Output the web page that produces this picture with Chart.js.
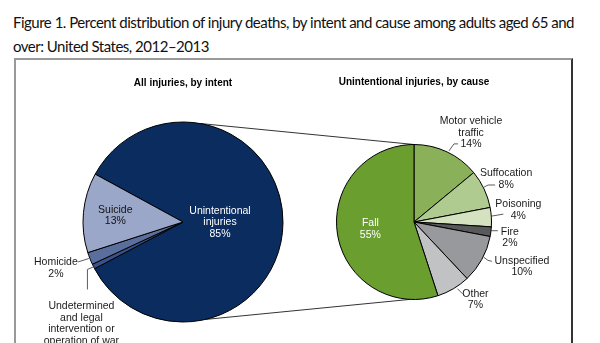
<!DOCTYPE html>
<html>
<head>
<meta charset="utf-8">
<script src="https://cdn.jsdelivr.net/npm/chart.js@4.4.1/dist/chart.umd.min.js"></script>
<style>
  body { margin: 0; width: 600px; height: 343px; overflow: hidden; background: #fff; position: relative; }
  #titulo { position: absolute; left: 13px; top: 10px; font-family: Lato, sans-serif; font-size: 15px; letter-spacing: -0.5px; line-height: 24px; color: #111; white-space: nowrap; }
  #caixa { position: absolute; left: 14px; top: 58px; width: 559px; height: 300px; box-sizing: border-box;
           border-top: 2px solid #999; border-left: 2px solid #999; border-right: 2px solid #333; }
  canvas { position: absolute; }
</style>
</head>
<body>
<div id="titulo">Figure 1. Percent distribution of injury deaths, by intent and cause among adults aged 65 and<br>over: United States, 2012–2013</div>
<div id="caixa"></div>
<canvas id="linhas" width="600" height="343" style="left:0;top:0"></canvas>
<canvas id="intentChart" width="336" height="282" style="left:15px;top:61px"></canvas>
<canvas id="causeChart" width="300" height="282" style="left:272px;top:61px"></canvas>
<script>
// Dados - todas as lesões por intenção (ordem horária a partir da fatia grande)
const intentLabels = [['Unintentional', 'injuries'], ['Undetermined', 'and legal', 'intervention or', 'operation of war'], ['Homicide'], ['Suicide']];
const intentValues = [85, 0.8, 2, 13];
const intentColors = ['#0b2c5e', '#3a5088', '#5b6f9f', '#9ba7c9'];

// Dados - lesões não intencionais por causa
const causeLabels = [['Motor vehicle', 'traffic'], ['Suffocation'], ['Poisoning'], ['Fire'], ['Unspecified'], ['Other'], ['Fall']];
const causeValues = [14, 8, 4, 2, 10, 7, 55];
const causeColors = ['#8bb05a', '#b0cb8f', '#d4e2bf', '#58595b', '#97999c', '#c1c2c4', '#6a9e2f'];

// Posição dos rótulos (relativa ao ponto da borda no meio de cada fatia)
const intentLayout = [
  { inside: true, rf: 0.37, color: '#ffffff' },
  { pct: false, dx: -12, dy: 57, leader: [[1, 0], [-6, 3], [-6, 23]] },
  { dx: -34, dy: 9.5, leader: [[-1, 0], [-12, 3.5]] },
  { inside: true, rf: 0.68, color: '#111111' }
];
const causeLayout = [
  { dx: 24, dy: -19, leader: [[2, -1], [7, -8], [11, -8]] },
  { dx: 22, dy: -10, leader: [[0, -2], [4, -4], [11, -4]] },
  { dx: 27, dy: -7, leader: [[0, -1], [12, -3]] },
  { dx: 19, dy: 6, leader: [[0, -1], [7, -1]] },
  { dx: 40, dy: 7.5, leader: [[2, -2], [6, 1], [10, 2]] },
  { dx: 22, dy: 11, leader: [[4, 0], [7, 3], [9, 5]] },
  { inside: true, rf: 0.57, color: '#ffffff' }
];

const fonte = 'Liberation Sans, Arial, sans-serif';

// Plugin para desenhar os rótulos e as linhas de chamada
const rotulosPlugin = {
  id: 'rotulos',
  afterDatasetsDraw(chart, args, opts) {
    const ctx = chart.ctx;
    const meta = chart.getDatasetMeta(0);
    const valores = chart.data.datasets[0].data;
    ctx.save();
    ctx.font = '10.5px ' + fonte;
    ctx.textAlign = 'center';
    ctx.textBaseline = 'middle';
    meta.data.forEach((arc, i) => {
      const cfg = opts.layout[i];
      const p = arc.getProps(['x', 'y', 'startAngle', 'endAngle', 'outerRadius']);
      const meio = (p.startAngle + p.endAngle) / 2;
      const cos = Math.cos(meio), sin = Math.sin(meio);
      let linhas = [].concat(chart.data.labels[i]);
      if (cfg.pct !== false) linhas = linhas.concat(Math.round(valores[i]) + '%');
      let tx, ty;
      if (cfg.inside) {
        tx = p.x + cos * p.outerRadius * cfg.rf;
        ty = p.y + sin * p.outerRadius * cfg.rf;
        ctx.fillStyle = cfg.color;
      } else {
        const ex = p.x + cos * p.outerRadius;
        const ey = p.y + sin * p.outerRadius;
        ctx.strokeStyle = '#333';
        ctx.lineWidth = 0.8;
        ctx.beginPath();
        cfg.leader.forEach(([lx, ly], k) => {
          if (k === 0) ctx.moveTo(ex + lx, ey + ly);
          else ctx.lineTo(ex + lx, ey + ly);
        });
        ctx.stroke();
        tx = ex + cfg.dx;
        ty = ey + cfg.dy;
        ctx.fillStyle = '#1a1a1a';
      }
      const lh = 11.5;
      linhas.forEach((t, k) => {
        ctx.fillText(t, tx, ty + (k - (linhas.length - 1) / 2) * lh);
      });
    });
    ctx.restore();
  }
};

function opcoes(titulo, rotacao, padding, tituloPad, layout) {
  return {
    responsive: false,
    animation: false,
    rotation: rotacao,
    layout: { padding: padding },
    plugins: {
      legend: { display: false },
      tooltip: { enabled: false },
      title: {
        display: true,
        text: titulo,
        color: '#000',
        font: { family: fonte, size: 10, weight: 'bold' },
        padding: tituloPad
      },
      rotulos: { layout: layout }
    }
  };
}

const intentChart = new Chart(document.getElementById('intentChart').getContext('2d'), {
  type: 'pie',
  data: {
    labels: intentLabels,
    datasets: [{ data: intentValues, backgroundColor: intentColors, borderColor: '#000', borderWidth: 1, hoverOffset: 0 }]
  },
  options: opcoes('All injuries, by intent', 298.6,
    { left: 67.5, right: 67.5, top: 0, bottom: 20 }, { top: 16, bottom: 32 }, intentLayout),
  plugins: [rotulosPlugin]
});

const causeChart = new Chart(document.getElementById('causeChart').getContext('2d'), {
  type: 'pie',
  data: {
    labels: causeLabels,
    datasets: [{ data: causeValues, backgroundColor: causeColors, borderColor: '#000', borderWidth: 1, hoverOffset: 0 }]
  },
  options: opcoes('Unintentional injuries, by cause', 0,
    { left: 63.5, right: 79.5, top: 0, bottom: 43 }, { top: 15, bottom: 56 }, causeLayout),
  plugins: [rotulosPlugin]
});

// Linhas que ligam a fatia "Unintentional" ao segundo gráfico
function ponto(chart, offX, offY, graus) {
  const arc = chart.getDatasetMeta(0).data[0];
  const a = graus * Math.PI / 180;
  return [offX + arc.x + Math.cos(a) * arc.outerRadius, offY + arc.y + Math.sin(a) * arc.outerRadius];
}
const lctx = document.getElementById('linhas').getContext('2d');
lctx.strokeStyle = '#333';
lctx.lineWidth = 1;
[[-80, -90], [77, 93]].forEach(([a1, a2]) => {
  const p1 = ponto(intentChart, 15, 61, a1);
  const p2 = ponto(causeChart, 272, 61, a2);
  lctx.beginPath();
  lctx.moveTo(p1[0], p1[1]);
  lctx.lineTo(p2[0], p2[1]);
  lctx.stroke();
});
</script>
</body>
</html>
